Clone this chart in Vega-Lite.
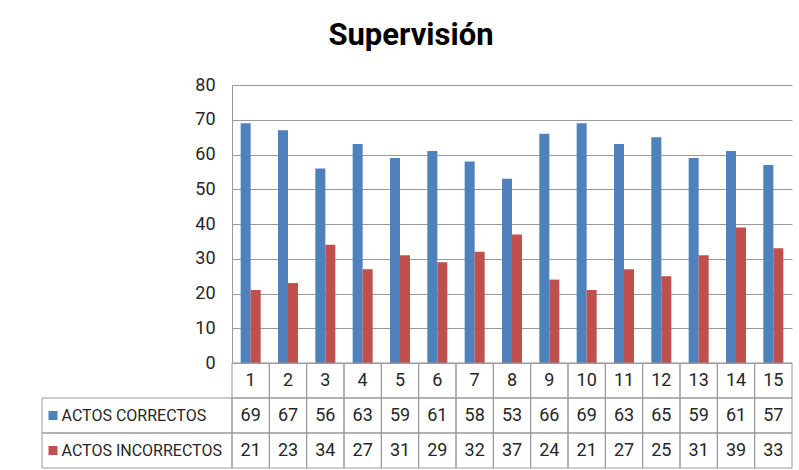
{
  "$schema": "https://vega.github.io/schema/vega-lite/v6.json",
  "width": 750,
  "height": 383,
  "autosize": {"type": "none"},
  "padding": {"left": 42, "top": 85, "right": 7, "bottom": 2},
  "background": "white",
  "config": {"view": {"stroke": null}, "font": "Roboto"},
  "title": {"text": "Supervisión", "font": "Roboto", "fontSize": 31, "fontWeight": "bold", "color": "#000000", "anchor": "middle", "dx": -6, "offset": 24},
  "datasets": {
    "d": [
      {"x": 1, "serie": "ACTOS CORRECTOS", "v": 69}, {"x": 1, "serie": "ACTOS INCORRECTOS", "v": 21},
      {"x": 2, "serie": "ACTOS CORRECTOS", "v": 67}, {"x": 2, "serie": "ACTOS INCORRECTOS", "v": 23},
      {"x": 3, "serie": "ACTOS CORRECTOS", "v": 56}, {"x": 3, "serie": "ACTOS INCORRECTOS", "v": 34},
      {"x": 4, "serie": "ACTOS CORRECTOS", "v": 63}, {"x": 4, "serie": "ACTOS INCORRECTOS", "v": 27},
      {"x": 5, "serie": "ACTOS CORRECTOS", "v": 59}, {"x": 5, "serie": "ACTOS INCORRECTOS", "v": 31},
      {"x": 6, "serie": "ACTOS CORRECTOS", "v": 61}, {"x": 6, "serie": "ACTOS INCORRECTOS", "v": 29},
      {"x": 7, "serie": "ACTOS CORRECTOS", "v": 58}, {"x": 7, "serie": "ACTOS INCORRECTOS", "v": 32},
      {"x": 8, "serie": "ACTOS CORRECTOS", "v": 53}, {"x": 8, "serie": "ACTOS INCORRECTOS", "v": 37},
      {"x": 9, "serie": "ACTOS CORRECTOS", "v": 66}, {"x": 9, "serie": "ACTOS INCORRECTOS", "v": 24},
      {"x": 10, "serie": "ACTOS CORRECTOS", "v": 69}, {"x": 10, "serie": "ACTOS INCORRECTOS", "v": 21},
      {"x": 11, "serie": "ACTOS CORRECTOS", "v": 63}, {"x": 11, "serie": "ACTOS INCORRECTOS", "v": 27},
      {"x": 12, "serie": "ACTOS CORRECTOS", "v": 65}, {"x": 12, "serie": "ACTOS INCORRECTOS", "v": 25},
      {"x": 13, "serie": "ACTOS CORRECTOS", "v": 59}, {"x": 13, "serie": "ACTOS INCORRECTOS", "v": 31},
      {"x": 14, "serie": "ACTOS CORRECTOS", "v": 61}, {"x": 14, "serie": "ACTOS INCORRECTOS", "v": 39},
      {"x": 15, "serie": "ACTOS CORRECTOS", "v": 57}, {"x": 15, "serie": "ACTOS INCORRECTOS", "v": 33}
    ]
  },
  "data": {"name": "d"},
  "layer": [
    {
      "mark": {"type": "bar"},
      "encoding": {
        "x": {"field": "x", "type": "ordinal", "scale": {"range": [190, 750], "paddingInner": 0.464, "paddingOuter": 0.232}, "axis": null},
        "xOffset": {"field": "serie", "type": "nominal", "scale": {"domain": ["ACTOS CORRECTOS", "ACTOS INCORRECTOS"], "paddingInner": 0, "paddingOuter": 0}},
        "y": {
          "field": "v", "type": "quantitative",
          "scale": {"domain": [0, 80], "range": [278, 0], "nice": false, "zero": true},
          "axis": {"title": null, "values": [0, 10, 20, 30, 40, 50, 60, 70, 80], "offset": -190, "ticks": false, "tickSize": 0, "labelPadding": 17, "labelFontSize": 18, "labelColor": "#262626", "labelFont": "Roboto", "domainColor": "#999999", "gridColor": "#999999", "grid": true}
        },
        "color": {"field": "serie", "type": "nominal", "scale": {"domain": ["ACTOS CORRECTOS", "ACTOS INCORRECTOS"], "range": ["#4F81BD", "#C0504D"]}, "legend": null}
      }
    },
    {
      "layer": [
        {
          "encoding": {
            "x": {"field": "x", "type": "ordinal", "scale": {"range": [190, 750], "paddingInner": 0, "paddingOuter": 0}, "axis": null}
          },
          "layer": [
            {
              "transform": [{"filter": "datum.serie == 'ACTOS CORRECTOS'"}],
              "encoding": {
                "y": {"datum": "top", "type": "nominal", "scale": {"domain": ["top", "ACTOS CORRECTOS", "ACTOS INCORRECTOS"], "range": [278, 383], "paddingInner": 0, "paddingOuter": 0}, "axis": null}
              },
              "layer": [
                {"mark": {"type": "rect", "fill": "transparent", "stroke": "#999999", "strokeWidth": 1}},
                {"mark": {"type": "text", "fontSize": 18, "color": "#262626", "font": "Roboto"}, "encoding": {"text": {"field": "x", "type": "ordinal"}}}
              ]
            },
            {
              "encoding": {
                "y": {"field": "serie", "type": "nominal", "scale": {"domain": ["top", "ACTOS CORRECTOS", "ACTOS INCORRECTOS"], "range": [278, 383], "paddingInner": 0, "paddingOuter": 0}, "axis": null}
              },
              "layer": [
                {"mark": {"type": "rect", "fill": "transparent", "stroke": "#999999", "strokeWidth": 1}},
                {"mark": {"type": "text", "fontSize": 18, "color": "#262626", "font": "Roboto"}, "encoding": {"text": {"field": "v", "type": "quantitative"}}}
              ]
            }
          ]
        },
        {
          "transform": [{"filter": "datum.x == 1"}],
          "encoding": {
            "y": {"field": "serie", "type": "nominal", "scale": {"domain": ["top", "ACTOS CORRECTOS", "ACTOS INCORRECTOS"], "range": [278, 383], "paddingInner": 0, "paddingOuter": 0}, "axis": null}
          },
          "layer": [
            {"mark": {"type": "rect", "fill": "transparent", "stroke": "#999999", "strokeWidth": 1},
             "encoding": {"x": {"datum": "L", "type": "nominal", "scale": {"domain": ["L"], "range": [0, 190], "paddingInner": 0, "paddingOuter": 0}, "axis": null}}},
            {"mark": {"type": "point", "shape": "square", "filled": true, "size": 81, "opacity": 1},
             "encoding": {
               "x": {"datum": "L", "type": "nominal", "bandPosition": 0.058, "scale": {"domain": ["L"], "range": [0, 190], "paddingInner": 0, "paddingOuter": 0}, "axis": null},
               "color": {"field": "serie", "type": "nominal", "scale": {"domain": ["ACTOS CORRECTOS", "ACTOS INCORRECTOS"], "range": ["#4F81BD", "#C0504D"]}, "legend": null}
             }},
            {"mark": {"type": "text", "align": "left", "fontSize": 16, "color": "#262626", "font": "Roboto"},
             "encoding": {
               "x": {"datum": "L", "type": "nominal", "bandPosition": 0.103, "scale": {"domain": ["L"], "range": [0, 190], "paddingInner": 0, "paddingOuter": 0}, "axis": null},
               "text": {"field": "serie", "type": "nominal"}
             }}
          ],
          "resolve": {"scale": {"x": "shared"}}
        }
      ],
      "resolve": {"scale": {"x": "independent"}}
    }
  ],
  "resolve": {"scale": {"x": "independent", "y": "independent"}}
}
